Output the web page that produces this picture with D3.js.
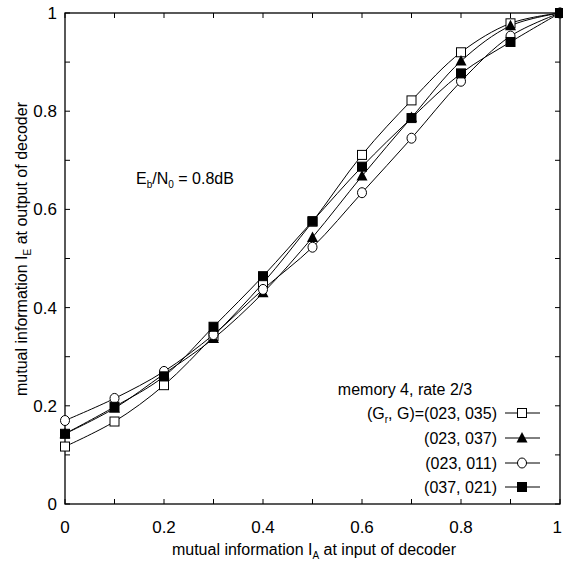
<!DOCTYPE html>
<html><head><meta charset="utf-8">
<script src="https://cdn.jsdelivr.net/npm/d3@7"></script>
<style>body{margin:0;background:#fff}text{font-family:"Liberation Sans",Arial,sans-serif;fill:#000}</style>
</head><body><svg id="c" width="563" height="577"></svg>
<script>
const xs = [0,0.1,0.2,0.3,0.4,0.5,0.6,0.7,0.8,0.9,1.0];
const s035 = [0.117,0.168,0.242,0.342,0.450,0.575,0.711,0.822,0.920,0.979,1.0];
const s037 = [0.143,0.195,0.265,0.337,0.430,0.543,0.668,0.787,0.902,0.974,1.0];
const s011 = [0.170,0.215,0.270,0.345,0.437,0.523,0.634,0.745,0.861,0.953,1.0];
const s021 = [0.143,0.198,0.260,0.361,0.464,0.576,0.687,0.786,0.877,0.941,1.0];
const seriesNames = ["(G\u2099, G)=(023, 035)","(023, 037)","(023, 011)","(037, 021)"];
const markers = ["square","triangle","circle","filledSquare"];
const xTicks = [0,0.2,0.4,0.6,0.8,1];
const xMinor = [0.1,0.3,0.5,0.7,0.9];

const svg = d3.select("#c");
const L=65,R=560,T=13,B=504;
const x = d3.scaleLinear().domain([0,1]).range([L,R]);
const y = d3.scaleLinear().domain([0,1]).range([B,T]);

svg.append("rect").attr("x",L).attr("y",T).attr("width",R-L).attr("height",B-T).attr("fill","none").attr("stroke","#000").attr("stroke-width",1.3);
const allT = xTicks.concat(xMinor);
allT.forEach(t=>{
  svg.append("line").attr("x1",x(t)).attr("x2",x(t)).attr("y1",B).attr("y2",B-5).attr("stroke","#000");
  svg.append("line").attr("x1",x(t)).attr("x2",x(t)).attr("y1",T).attr("y2",T+5).attr("stroke","#000");
  svg.append("line").attr("y1",y(t)).attr("y2",y(t)).attr("x1",L).attr("x2",L+5).attr("stroke","#000");
  svg.append("line").attr("y1",y(t)).attr("y2",y(t)).attr("x1",R).attr("x2",R-5).attr("stroke","#000");
});
const fmt = d=> d===0?"0":d===1?"1":String(d);
xTicks.forEach(t=>{
  const last = t===1;
  svg.append("text").attr("x",last?562:x(t)).attr("y",533).attr("text-anchor",last?"end":"middle").attr("font-size",17).text(fmt(t));
  svg.append("text").attr("x",L-8).attr("y",y(t)+6).attr("text-anchor","end").attr("font-size",17).text(fmt(t));
});
const xl = svg.append("text").attr("x",314).attr("y",555).attr("text-anchor","middle").attr("font-size",16);
xl.append("tspan").text("mutual information I");
xl.append("tspan").attr("font-size",10).attr("dy",4).text("A");
xl.append("tspan").attr("dy",-4).text(" at input of decoder");
const yl = svg.append("text").attr("transform","translate(27,249) rotate(-90)").attr("text-anchor","middle").attr("font-size",16);
yl.append("tspan").text("mutual information I");
yl.append("tspan").attr("font-size",10).attr("dy",4).text("E");
yl.append("tspan").attr("dy",-4).text(" at output of decoder");

const eb = svg.append("text").attr("x",136).attr("y",184).attr("font-size",16);
eb.append("tspan").text("E");
eb.append("tspan").attr("font-size",10).attr("dy",4).text("b");
eb.append("tspan").attr("dy",-4).text("/N");
eb.append("tspan").attr("font-size",10).attr("dy",4).text("0");
eb.append("tspan").attr("dy",-4).text(" = 0.8dB");

const data = [s035,s037,s011,s021];
const line = d3.line().x((d,i)=>x(xs[i])).y(d=>y(d)).curve(d3.curveCatmullRom);
function drawMarker(g,type,cx,cy){
  if(type==="square"||type==="filledSquare"){
    g.append("rect").attr("x",cx-4.5).attr("y",cy-4.5).attr("width",9).attr("height",9)
     .attr("fill",type==="square"?"#fff":"#000").attr("stroke","#000").attr("stroke-width",1);
  } else if(type==="circle"){
    g.append("ellipse").attr("cx",cx).attr("cy",cy).attr("rx",4.5).attr("ry",5).attr("fill","#fff").attr("stroke","#000");
  } else {
    g.append("path").attr("d",`M${cx},${cy-6}L${cx+5.5},${cy+4.5}L${cx-5.5},${cy+4.5}Z`).attr("fill","#000");
  }
}
data.forEach((s,k)=>{
  svg.append("path").attr("d",line(s)).attr("fill","none").attr("stroke","#000").attr("stroke-width",1);
});
data.forEach((s,k)=>{
  const g=svg.append("g");
  s.forEach((v,i)=>drawMarker(g,markers[k],x(xs[i]),y(v)));
});
svg.append("text").attr("x",405).attr("y",395).attr("text-anchor","middle").attr("font-size",16).text("memory 4, rate 2/3");
const ly=[413,438,463,487];
seriesNames.forEach((n,k)=>{
  const t = svg.append("text").attr("x",497).attr("y",ly[k]+6).attr("text-anchor","end").attr("font-size",16);
  if(k===0){
    t.append("tspan").text("(G");
    t.append("tspan").attr("font-size",10).attr("dy",4).text("r");
    t.append("tspan").attr("dy",-4).text(", G)=(023, 035)");
  } else t.text(n);
  svg.append("line").attr("x1",505).attr("x2",540).attr("y1",ly[k]).attr("y2",ly[k]).attr("stroke","#000");
  drawMarker(svg,markers[k],522,ly[k]);
});
</script></body></html>
